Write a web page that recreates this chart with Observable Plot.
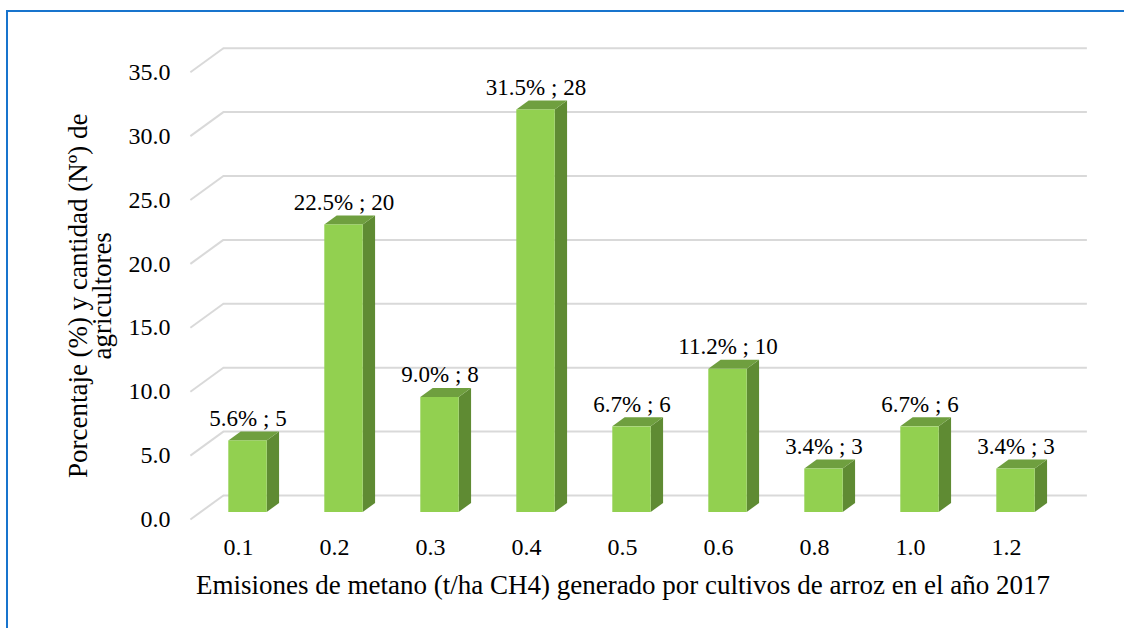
<!DOCTYPE html>
<html>
<head>
<meta charset="utf-8">
<script src="https://cdn.jsdelivr.net/npm/d3@7"></script>
<script src="https://cdn.jsdelivr.net/npm/@observablehq/plot@0.6"></script>
<style>
  html, body { margin: 0; padding: 0; background: #fff; }
  #wrap { position: relative; width: 1124px; height: 628px; overflow: hidden; }
  #wrap svg, #wrap svg text { font-family: "Liberation Serif", Tinos, "Times New Roman", Times, "Nimbus Roman", "DejaVu Serif", serif !important; }
  #border { position: absolute; left: 6px; top: 10px; width: 1200px; height: 700px;
            border-left: 2px solid #1874cd; border-top: 2px solid #1874cd; pointer-events: none; }
</style>
</head>
<body>
<div id="wrap"><div id="border"></div></div>
<script>
// Methane emission classes (t/ha CH4) and the farmers falling in each one
const categories = ["0.1", "0.2", "0.3", "0.4", "0.5", "0.6", "0.8", "1.0", "1.2"];
const percentages = [5.6, 22.5, 9.0, 31.5, 6.7, 11.2, 3.4, 6.7, 3.4];
const counts = [5, 20, 8, 28, 6, 10, 3, 6, 3];
const yTicks = [0, 5, 10, 15, 20, 25, 30, 35];

const xTitle = "Emisiones de metano (t/ha CH4) generado por cultivos de arroz en el año 2017";
const yTitle = "Porcentaje (%) y cantidad (Nº) de\nagricultores";

// Layout
const W = 1124, H = 628;
const mL = 199.5, mR = 60.5, mT = 64.7, mB = 116;
const xDomain = [-0.5, categories.length - 0.5];
const yDomain = [0, 35];
const pxX = (W - mL - mR) / (xDomain[1] - xDomain[0]);
const pxY = (H - mT - mB) / (yDomain[1] - yDomain[0]);

// Pseudo-3D depth: full depth vector in pixels (right, up); bars sit between two depth fractions
const depthX = 33, depthY = 24;
const barFront = 7 / 24, barBack = 16 / 24;
const halfBar = 0.2;
// move a point given on the bars' front plane to depth fraction f
const shiftX = f => (f - barFront) * depthX / pxX;
const shiftY = f => (f - barFront) * depthY / pxY;

const serif = "Liberation Serif, Tinos, Times New Roman, Times, Nimbus Roman, DejaVu Serif, serif";
const colors = {front: "#92d050", side: "#5f8b33", top: "#6f9f3f", grid: "#d9d9d9", text: "#000"};

const rows = categories.map((c, i) => ({i, c, v: percentages[i], n: counts[i],
  label: `${percentages[i].toFixed(1)}% ; ${counts[i]}`}));

// side faces (parallelograms) as two-point areas
const sidePts = rows.flatMap(d => [
  {i: d.i, x: d.i + halfBar, y1: 0, y2: d.v},
  {i: d.i, x: d.i + halfBar + shiftX(barBack), y1: shiftY(barBack), y2: d.v + shiftY(barBack)}
]);
// top faces
const topPts = rows.flatMap(d => [
  {i: d.i, y: d.v, x1: d.i - halfBar, x2: d.i + halfBar},
  {i: d.i, y: d.v + shiftY(barBack), x1: d.i - halfBar + shiftX(barBack), x2: d.i + halfBar + shiftX(barBack)}
]);

const chart = Plot.plot({
  width: W, height: H,
  marginLeft: mL, marginRight: mR, marginTop: mT, marginBottom: mB,
  x: {domain: xDomain},
  y: {domain: yDomain},
  style: {fontFamily: serif, fontSize: "24px", color: colors.text, background: "transparent", overflow: "visible"},
  marks: [
    // back wall gridlines
    Plot.ruleY(yTicks, {stroke: colors.grid, strokeWidth: 2,
      dx: (1 - barFront) * depthX, dy: -(1 - barFront) * depthY}),
    // left wall diagonals
    Plot.link(yTicks, {
      x1: () => xDomain[0] + shiftX(0), y1: t => t + shiftY(0),
      x2: () => xDomain[0] + shiftX(1), y2: t => t + shiftY(1),
      stroke: colors.grid, strokeWidth: 2
    }),
    // bars
    Plot.areaY(sidePts, {x: "x", y1: "y1", y2: "y2", z: "i", fill: colors.side, curve: "linear"}),
    Plot.areaX(topPts, {y: "y", x1: "x1", x2: "x2", z: "i", fill: colors.top, curve: "linear"}),
    Plot.rect(rows, {x1: d => d.i - halfBar, x2: d => d.i + halfBar, y1: 0, y2: "v", fill: colors.front}),
    // value labels
    Plot.text(rows, {x: "i", y: "v", text: "label", dy: -15, lineAnchor: "bottom", fontSize: 23, fontFamily: serif, fill: colors.text}),
    // axes on the front plane
    Plot.axisY(yTicks, {tickSize: 0, tickPadding: 29.5, dy: -shiftY(0) * pxY, tickFormat: d3.format(".1f"), label: null, fontSize: 24, fontFamily: serif, fill: colors.text}),
    Plot.axisX(d3.range(categories.length), {tickSize: 0, tickPadding: 25, dx: shiftX(0) * pxX, tickFormat: i => categories[i], label: null, fontSize: 24, fontFamily: serif, fill: colors.text}),
    // axis titles
    Plot.text([xTitle], {frameAnchor: "bottom", dx: -9, dy: 81, lineAnchor: "bottom", textAnchor: "middle", fontSize: 27, fontFamily: serif, fill: colors.text}),
    Plot.text([yTitle], {frameAnchor: "left", rotate: -90, dx: -109, dy: 7, textAnchor: "middle", lineAnchor: "middle", lineHeight: 0.9, fontSize: 27, fontFamily: serif, fill: colors.text})
  ]
});
document.getElementById("wrap").prepend(chart);
</script>
</body>
</html>
